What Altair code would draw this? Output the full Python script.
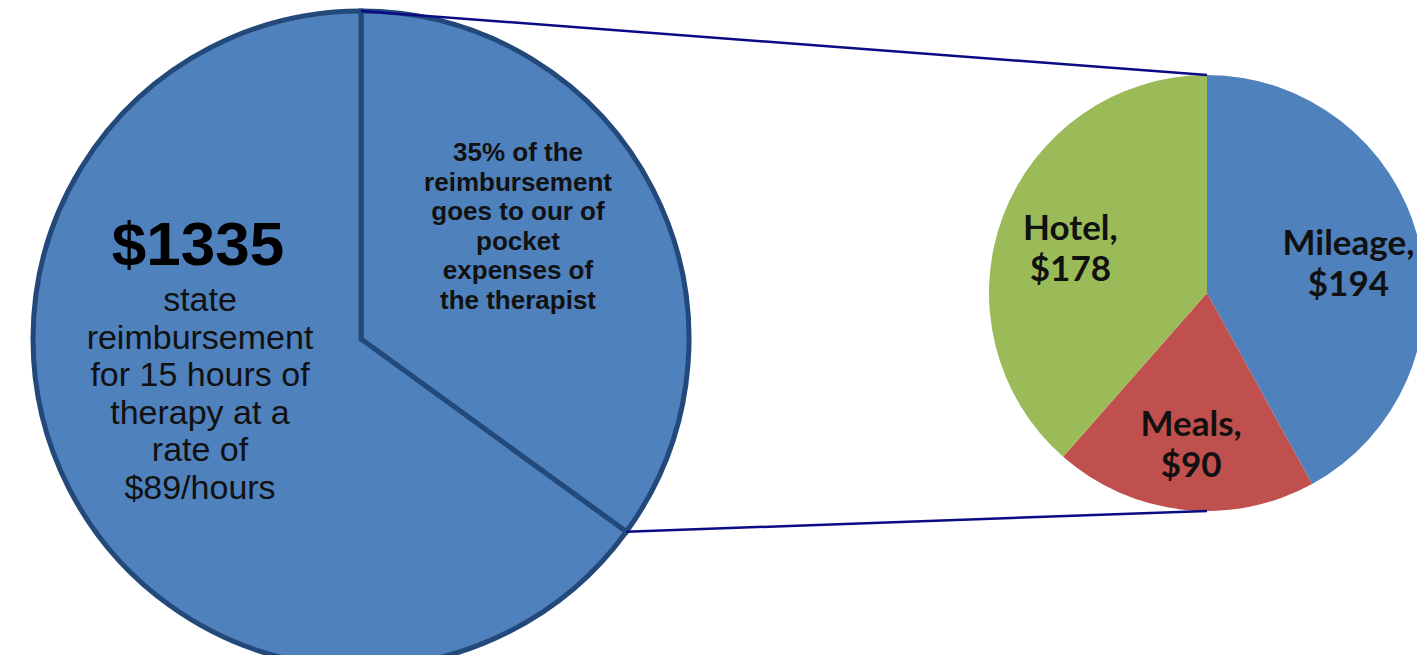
import math
import altair as alt
import pandas as pd

# ---- data ----
big_labels = ["Out of pocket expenses", "Remaining reimbursement"]
big_values = [35, 65]          # percent of $1335

small_labels = ["Mileage", "Meals", "Hotel"]
small_values = [194, 90, 178]
small_colors = ["#4F81BD", "#C0504D", "#9BBB59"]

left_title = "$1335"
left_lines = ["state", "reimbursement", "for 15 hours of", "therapy at a", "rate of", "$89/hours"]
slice_lines = ["35% of the", "reimbursement", "goes to our of", "pocket", "expenses of", "the therapist"]

# ---- layout ----
W, H = 1409, 647
BIG_CX, BIG_CY, BIG_R = 353, 331, 328
SM_CX, SM_CY, SM_R = 1199, 285, 218

big_df = pd.DataFrame({"label": big_labels, "value": big_values, "idx": [0, 1]})
small_df = pd.DataFrame({
    "label": small_labels,
    "value": small_values,
    "idx": list(range(len(small_labels))),
    "text": [f"{l},\n${v}" for l, v in zip(small_labels, small_values)],
})

big_pie = alt.Chart(big_df).mark_arc(
    radius=BIG_R, fill="#4F81BD", stroke="#23497A", strokeWidth=5
).encode(
    theta=alt.Theta("value:Q", stack=True),
    order=alt.Order("idx:Q"),
    x=alt.value(BIG_CX), y=alt.value(BIG_CY),
)

small_base = alt.Chart(small_df).encode(
    theta=alt.Theta("value:Q", stack=True),
    order=alt.Order("idx:Q"),
    x=alt.value(SM_CX), y=alt.value(SM_CY),
)
small_pie = small_base.mark_arc(radius=SM_R).encode(
    color=alt.Color("label:N", scale=alt.Scale(domain=small_labels, range=small_colors), legend=None)
)
small_text = small_base.mark_text(
    radius=146, font="Lato", fontWeight="bold", fontSize=35, lineBreak="\n",
    lineHeight=41, color="#111111", align="center", baseline="middle", dy=-13
).encode(text="text:N")
small_layer = alt.layer(small_pie, small_text)

# connector lines derived from the 35% slice boundary
frac = big_values[0] / sum(big_values)
ang = 2 * math.pi * frac
conn_df = pd.DataFrame({
    "x": [BIG_CX, BIG_CX + BIG_R * math.sin(ang)],
    "y": [BIG_CY - BIG_R, BIG_CY - BIG_R * math.cos(ang)],
    "x2": [SM_CX, SM_CX],
    "y2": [SM_CY - SM_R, SM_CY + SM_R],
})
connectors = alt.Chart(conn_df).mark_rule(color="#0B0B85", strokeWidth=2.5).encode(
    x=alt.X("x:Q", scale=alt.Scale(domain=[0, W], nice=False, zero=False), axis=None),
    y=alt.Y("y:Q", scale=alt.Scale(domain=[0, H], nice=False, zero=False, reverse=True), axis=None),
    x2="x2:Q", y2="y2:Q",
)

title_txt = alt.Chart(pd.DataFrame({"t": [left_title]})).mark_text(
    font="Liberation Sans", fontWeight="bold", fontSize=62, color="#000000",
    align="center", baseline="middle"
).encode(text="t:N", x=alt.value(190), y=alt.value(238))

body_txt = alt.Chart(pd.DataFrame({"t": ["\n".join(left_lines)]})).mark_text(
    font="Liberation Sans", fontSize=34, lineBreak="\n", lineHeight=37.6, color="#111111",
    align="center", baseline="middle"
).encode(text="t:N", x=alt.value(192), y=alt.value(293))

slice_txt = alt.Chart(pd.DataFrame({"t": ["\n".join(slice_lines)]})).mark_text(
    font="Liberation Sans", fontWeight="bold", fontSize=26, lineBreak="\n", lineHeight=29.6,
    color="#111111", align="center", baseline="middle"
).encode(text="t:N", x=alt.value(510), y=alt.value(145))

chart = alt.layer(
    big_pie, small_layer, connectors, title_txt, body_txt, slice_txt
).resolve_scale(theta="independent").properties(
    width=W, height=H, padding=0, background="white",
    autosize=alt.AutoSizeParams(type="none"),
).configure_view(strokeWidth=0)

chart.save("out.html", embed_options={"renderer": "svg", "actions": False})
